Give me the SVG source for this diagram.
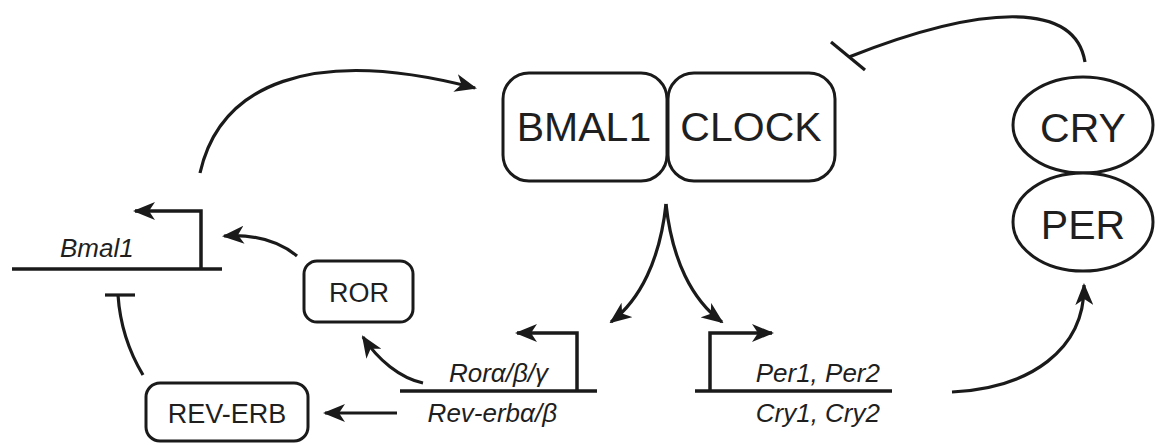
<svg xmlns="http://www.w3.org/2000/svg" width="1155" height="445" viewBox="0 0 1155 445">
  <style>
    .box { fill: #fff; stroke: #1a1a1a; stroke-width: 3; }
    .lbl { font-family: "Liberation Sans", Arial, sans-serif; fill: #1f1f1f; text-anchor: middle; }
    .big { font-size: 41px; }
    .mid { font-size: 27px; }
    .gene { font-family: "Liberation Sans", Arial, sans-serif; font-style: italic; font-size: 26px; fill: #1f1f1f; }
    .dna { stroke: #1a1a1a; stroke-width: 3.5; fill: none; }
    .link { stroke: #1a1a1a; stroke-width: 3.2; fill: none; }
    .act { marker-end: url(#arrow); }
  </style>
  <defs>
    <marker id="arrow" viewBox="0 0 22 18" refX="20" refY="9" markerWidth="22" markerHeight="18" markerUnits="userSpaceOnUse" orient="auto">
      <path d="M0,0 L22,9 L0,18 L6,9 Z" fill="#1a1a1a"/>
    </marker>
  </defs>

  <!-- BMAL1:CLOCK heterodimer -->
  <g id="bmal1">
    <rect class="box" x="503" y="73" width="164" height="108" rx="26"/>
    <text class="lbl big" x="584" y="141">BMAL1</text>
  </g>
  <g id="clock">
    <rect class="box" x="668" y="73" width="167" height="108" rx="26"/>
    <text class="lbl big" x="751" y="141">CLOCK</text>
  </g>

  <!-- CRY:PER complex -->
  <g id="cry">
    <ellipse class="box" cx="1083" cy="125" rx="70" ry="48"/>
    <text class="lbl big" x="1083" y="142">CRY</text>
  </g>
  <g id="per">
    <ellipse class="box" cx="1083" cy="222" rx="70" ry="49"/>
    <text class="lbl big" x="1083" y="239">PER</text>
  </g>

  <!-- Proteins -->
  <g id="ror">
    <rect class="box" x="304" y="261" width="109" height="61" rx="13"/>
    <text class="lbl mid" x="359" y="302">ROR</text>
  </g>
  <g id="rev-erb">
    <rect class="box" x="146" y="383" width="162" height="58" rx="14"/>
    <text class="lbl mid" x="227" y="423">REV-ERB</text>
  </g>

  <!-- Genes with promoters -->
  <g id="bmal1-gene">
    <line class="dna" x1="12" y1="269" x2="222" y2="269"/>
    <path class="dna act" d="M201,269 V211 H135"/>
    <text class="gene" x="60" y="257">Bmal1</text>
  </g>
  <g id="ror-rev-gene">
    <line class="dna" x1="400" y1="391" x2="597" y2="391"/>
    <path class="dna act" d="M577,391 V333 H517"/>
    <text class="gene" x="548" y="382" text-anchor="end">Rorα/β/γ</text>
    <text class="gene" x="557" y="422" text-anchor="end">Rev-erbα/β</text>
  </g>
  <g id="per-cry-gene">
    <line class="dna" x1="695" y1="391" x2="892" y2="391"/>
    <path class="dna act" d="M710,391 V333 H772"/>
    <text class="gene" x="880" y="382" text-anchor="end">Per1, Per2</text>
    <text class="gene" x="880" y="422" text-anchor="end">Cry1, Cry2</text>
  </g>

  <!-- Regulatory connectors -->
  <g id="connectors">
    <path class="link act" d="M200,173 C220,85 310,45 475,88"/>
    <path class="link act" d="M666,204 C660,260 640,300 611,322"/>
    <path class="link act" d="M666,204 C672,260 692,300 722,322"/>
    <path class="link act" d="M297,256 C280,242 255,234 224,236"/>
    <path class="link act" d="M423,383 C400,378 378,360 363,337"/>
    <path class="link act" d="M397,413 H325"/>
    <path class="link act" d="M952,392 C1030,388 1085,350 1084,285"/>
    <!-- repression -->
    <path class="link" d="M143,375 C128,350 120,325 118,295"/>
    <line class="link" x1="105" y1="295" x2="135" y2="295"/>
    <path class="link" d="M1085,62 C1075,0 980,5 849,57"/>
    <line class="link" x1="831" y1="42" x2="865" y2="70"/>
  </g>
</svg>
